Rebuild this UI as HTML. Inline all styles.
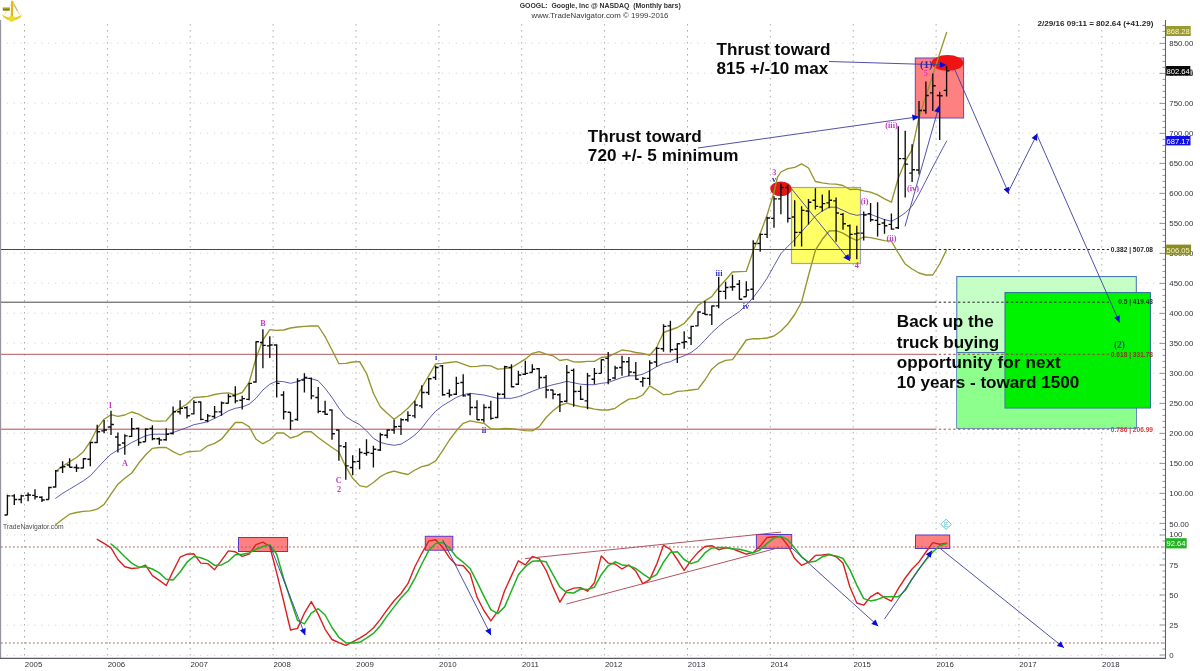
<!DOCTYPE html>
<html><head><meta charset="utf-8"><title>GOOGL Monthly</title>
<style>
html,body{margin:0;padding:0;background:#fff;}
body{width:1200px;height:671px;overflow:hidden;}
svg{display:block;}
.ax{font-family:"Liberation Sans",Arial,sans-serif;font-size:7.85px;fill:#30303a;}
.big{font-family:"Liberation Sans",Arial,sans-serif;font-weight:bold;font-size:17.1px;fill:#0a0a0a;}
.wv{font-family:"Liberation Serif","Times New Roman",serif;font-weight:bold;font-size:8.2px;text-anchor:middle;}
.fib{font-family:"Liberation Sans",Arial,sans-serif;font-weight:bold;font-size:6.6px;text-anchor:end;}
</style></head><body>
<svg width="1200" height="671" viewBox="0 0 1200 671">
<rect width="1200" height="671" fill="#fff"/>
<g id="grid">
<line x1="6.9" y1="43.2" x2="1163" y2="43.2" stroke="#cccccc" stroke-width="1" stroke-dasharray="1 5.906" stroke-dashoffset="0"/>
<line x1="6.9" y1="73.2" x2="1163" y2="73.2" stroke="#cccccc" stroke-width="1" stroke-dasharray="1 5.906" stroke-dashoffset="0"/>
<line x1="6.9" y1="103.2" x2="1163" y2="103.2" stroke="#cccccc" stroke-width="1" stroke-dasharray="1 5.906" stroke-dashoffset="0"/>
<line x1="6.9" y1="133.2" x2="1163" y2="133.2" stroke="#cccccc" stroke-width="1" stroke-dasharray="1 5.906" stroke-dashoffset="0"/>
<line x1="6.9" y1="163.2" x2="1163" y2="163.2" stroke="#cccccc" stroke-width="1" stroke-dasharray="1 5.906" stroke-dashoffset="0"/>
<line x1="6.9" y1="193.2" x2="1163" y2="193.2" stroke="#cccccc" stroke-width="1" stroke-dasharray="1 5.906" stroke-dashoffset="0"/>
<line x1="6.9" y1="223.2" x2="1163" y2="223.2" stroke="#cccccc" stroke-width="1" stroke-dasharray="1 5.906" stroke-dashoffset="0"/>
<line x1="6.9" y1="253.2" x2="1163" y2="253.2" stroke="#cccccc" stroke-width="1" stroke-dasharray="1 5.906" stroke-dashoffset="0"/>
<line x1="6.9" y1="283.2" x2="1163" y2="283.2" stroke="#cccccc" stroke-width="1" stroke-dasharray="1 5.906" stroke-dashoffset="0"/>
<line x1="6.9" y1="313.2" x2="1163" y2="313.2" stroke="#cccccc" stroke-width="1" stroke-dasharray="1 5.906" stroke-dashoffset="0"/>
<line x1="6.9" y1="343.2" x2="1163" y2="343.2" stroke="#cccccc" stroke-width="1" stroke-dasharray="1 5.906" stroke-dashoffset="0"/>
<line x1="6.9" y1="373.2" x2="1163" y2="373.2" stroke="#cccccc" stroke-width="1" stroke-dasharray="1 5.906" stroke-dashoffset="0"/>
<line x1="6.9" y1="403.2" x2="1163" y2="403.2" stroke="#cccccc" stroke-width="1" stroke-dasharray="1 5.906" stroke-dashoffset="0"/>
<line x1="6.9" y1="433.2" x2="1163" y2="433.2" stroke="#cccccc" stroke-width="1" stroke-dasharray="1 5.906" stroke-dashoffset="0"/>
<line x1="6.9" y1="463.2" x2="1163" y2="463.2" stroke="#cccccc" stroke-width="1" stroke-dasharray="1 5.906" stroke-dashoffset="0"/>
<line x1="6.9" y1="493.2" x2="1163" y2="493.2" stroke="#cccccc" stroke-width="1" stroke-dasharray="1 5.906" stroke-dashoffset="0"/>
<line x1="6.9" y1="523.2" x2="1163" y2="523.2" stroke="#cccccc" stroke-width="1" stroke-dasharray="1 5.906" stroke-dashoffset="0"/>
<line x1="6.9" y1="534.9" x2="1163" y2="534.9" stroke="#cccccc" stroke-width="1" stroke-dasharray="1 5.906" stroke-dashoffset="0"/>
<line x1="6.9" y1="565.1" x2="1163" y2="565.1" stroke="#cccccc" stroke-width="1" stroke-dasharray="1 5.906" stroke-dashoffset="0"/>
<line x1="6.9" y1="595.2" x2="1163" y2="595.2" stroke="#cccccc" stroke-width="1" stroke-dasharray="1 5.906" stroke-dashoffset="0"/>
<line x1="6.9" y1="625.2" x2="1163" y2="625.2" stroke="#cccccc" stroke-width="1" stroke-dasharray="1 5.906" stroke-dashoffset="0"/>
<line x1="6.9" y1="655.4" x2="1163" y2="655.4" stroke="#cccccc" stroke-width="1" stroke-dasharray="1 5.906" stroke-dashoffset="0"/>
<line x1="24.5" y1="24.35" x2="24.5" y2="657" stroke="#808080" stroke-width="1" stroke-dasharray="1 5"/>
<line x1="107.4" y1="24.35" x2="107.4" y2="657" stroke="#808080" stroke-width="1" stroke-dasharray="1 5"/>
<line x1="190.2" y1="24.35" x2="190.2" y2="657" stroke="#808080" stroke-width="1" stroke-dasharray="1 5"/>
<line x1="273.1" y1="24.35" x2="273.1" y2="657" stroke="#808080" stroke-width="1" stroke-dasharray="1 5"/>
<line x1="356" y1="24.35" x2="356" y2="657" stroke="#808080" stroke-width="1" stroke-dasharray="1 5"/>
<line x1="438.9" y1="24.35" x2="438.9" y2="657" stroke="#808080" stroke-width="1" stroke-dasharray="1 5"/>
<line x1="521.7" y1="24.35" x2="521.7" y2="657" stroke="#808080" stroke-width="1" stroke-dasharray="1 5"/>
<line x1="604.6" y1="24.35" x2="604.6" y2="657" stroke="#808080" stroke-width="1" stroke-dasharray="1 5"/>
<line x1="687.5" y1="24.35" x2="687.5" y2="657" stroke="#808080" stroke-width="1" stroke-dasharray="1 5"/>
<line x1="770.3" y1="24.35" x2="770.3" y2="657" stroke="#808080" stroke-width="1" stroke-dasharray="1 5"/>
<line x1="853.2" y1="24.35" x2="853.2" y2="657" stroke="#808080" stroke-width="1" stroke-dasharray="1 5"/>
<line x1="936.1" y1="24.35" x2="936.1" y2="657" stroke="#808080" stroke-width="1" stroke-dasharray="1 5"/>
<line x1="1018.9" y1="24.35" x2="1018.9" y2="657" stroke="#808080" stroke-width="1" stroke-dasharray="1 5"/>
<line x1="1101.8" y1="24.35" x2="1101.8" y2="657" stroke="#808080" stroke-width="1" stroke-dasharray="1 5"/>
</g>
<g id="boxes">
<rect x="791.5" y="187.5" width="69" height="76" fill="#ffff66" stroke="#a3a3b8" stroke-width="1.2"/>
<rect x="915.3" y="58" width="48.3" height="60" fill="#ff8080" stroke="#5a4ac0" stroke-width="1"/>
<rect x="956.8" y="276.6" width="179.5" height="151.6" fill="#c6ffc6" stroke="#3d6fb0" stroke-width="1"/>
<rect x="957.3" y="352.5" width="178.5" height="75.2" fill="#8dff8d"/>
<line x1="957" y1="352.5" x2="1005" y2="352.5" stroke="#4a78a8" stroke-width="1"/>
<rect x="1005" y="292.6" width="145.4" height="115.4" fill="#00f400" stroke="#2a6a9a" stroke-width="1"/>
<rect x="1005.5" y="352.5" width="144.4" height="55" fill="#00ee00"/>
<rect x="238.5" y="537.5" width="49.1" height="14" fill="#ff8080" stroke="#5a3ac8" stroke-width="1"/>
<rect x="425.3" y="536.3" width="27.5" height="13.9" fill="#ff8080" stroke="#5a3ac8" stroke-width="1"/>
<rect x="756.4" y="534.5" width="35.3" height="13.9" fill="#ff8080" stroke="#5a3ac8" stroke-width="1"/>
<rect x="915.5" y="535" width="34.2" height="13.5" fill="#ff8080" stroke="#5a3ac8" stroke-width="1"/>
<ellipse cx="780.9" cy="188.8" rx="10.7" ry="7.4" fill="#e01818"/>
<ellipse cx="947.5" cy="62.9" rx="16" ry="7.8" fill="#ee1414"/>
</g>
<g id="fibs">
<line x1="1" y1="249.5" x2="934" y2="249.5" stroke="#484848" stroke-width="1"/>
<line x1="934" y1="249.5" x2="1109" y2="249.5" stroke="#222" stroke-width="1" stroke-dasharray="2.4 2.4"/>
<line x1="1" y1="302.2" x2="934" y2="302.2" stroke="#484848" stroke-width="1"/>
<line x1="934" y1="302.2" x2="1109" y2="302.2" stroke="#222" stroke-width="1" stroke-dasharray="2.4 2.4"/>
<line x1="1" y1="354.3" x2="934" y2="354.3" stroke="#b05a5a" stroke-width="1"/>
<line x1="934" y1="354.3" x2="1109" y2="354.3" stroke="#8a4a3a" stroke-width="1" stroke-dasharray="2.4 2.4"/>
<line x1="1" y1="429.2" x2="934" y2="429.2" stroke="#c04848" stroke-width="1"/>
<line x1="934" y1="429.2" x2="1109" y2="429.2" stroke="#c04040" stroke-width="1" stroke-dasharray="2.4 2.4"/>
<line x1="1" y1="547" x2="1165" y2="547" stroke="#b85454" stroke-width="1.05" stroke-dasharray="1.7 2.3"/>
<line x1="1" y1="643" x2="1165" y2="643" stroke="#b85454" stroke-width="1.05" stroke-dasharray="1.7 2.3"/>
</g>
<g id="bands" fill="none" stroke-linejoin="round" stroke-linecap="round">
<path d="M55.7 471.3 L62.6 466.3 L69.6 461.7 L76.5 457.5 L83.4 451.7 L90.3 441.7 L97.2 428.3 L104.1 419.2 L111 414.7 L117.9 416.3 L124.8 415 L131.7 412 L138.6 414.2 L145.5 418 L152.4 420.8 L159.3 421.2 L166.2 420.8 L173.1 412.5 L180.1 408.3 L187 404 L193.9 397.5 L200.8 397 L207.7 396.3 L214.6 394.5 L221.5 393.3 L228.4 392.8 L235.3 395 L242.2 392.5 L249.1 382.5 L256 358.3 L262.9 340 L269.8 329.7 L276.7 330.3 L283.6 330 L290.5 328 L297.5 327 L304.4 326.3 L311.3 326 L318.2 326 L325.1 336.7 L332 350 L338.9 363.7 L345.8 363.3 L352.7 362 L359.6 361.7 L366.5 373.3 L373.4 393.3 L380.3 406.7 L387.2 413.3 L394.1 419.2 L401 414.2 L407.9 408.3 L414.9 400.8 L421.8 387.5 L428.7 375.8 L435.6 363.8 L442.5 363.3 L449.4 362.5 L456.3 361.7 L463.2 364.2 L470.1 366.7 L477 366.3 L483.9 365.3 L490.8 365.8 L497.7 369.2 L504.6 368.7 L511.5 367.5 L518.4 363.3 L525.3 359.2 L532.3 353.3 L539.2 351.7 L546.1 354.2 L553 355.8 L559.9 360.5 L566.8 359.4 L573.7 361.8 L580.6 362 L587.5 361.3 L594.4 361.3 L601.3 357.5 L608.2 356.7 L615.1 353.3 L622 350 L628.9 350.8 L635.8 352.5 L642.8 353.3 L649.7 355.3 L656.6 347.5 L663.5 332.5 L670.4 330 L677.3 327.5 L684.2 323.3 L691.1 315.5 L698 305.4 L704.9 300.8 L711.8 296.7 L718.7 287.5 L725.6 280 L732.5 272 L739.4 271.7 L746.3 271.3 L753.2 251 L760.2 233.5 L767.1 215 L774 192.2 L777.4 177.4 L780.9 172 L787.8 168.7 L794.7 167.4 L801.6 163.8 L808.5 168 L815.4 181.5 L822.3 182.8 L829.2 183.9 L836.1 184.1 L843 185.5 L849.9 189.5 L856.8 189.2 L863.7 190.8 L870.6 192.2 L877.6 194.9 L884.5 198.9 L891.4 202.2 L898.3 178 L905.2 161.7 L912.1 149.6 L919 117.4 L925.9 96 L932.8 75 L939.7 53.5 L946.6 32.4" stroke="#95952c" stroke-width="1.35"/>
<path d="M55.7 524.7 L62.6 519.2 L69.6 514.2 L76.5 512.5 L83.4 511.3 L90.3 510.8 L97.2 509.2 L104.1 504.4 L111 494.2 L117.9 484.2 L124.8 478.3 L131.7 473 L138.6 463.3 L145.5 455 L152.4 448.3 L159.3 447.5 L166.2 447.5 L173.1 451.7 L180.1 455 L187 452 L193.9 451.3 L200.8 450.8 L207.7 445.8 L214.6 443.3 L221.5 439.2 L228.4 430.8 L235.3 422.5 L242.2 422.5 L249.1 426.7 L256 439.2 L262.9 443.7 L269.8 440 L276.7 433 L283.6 433 L290.5 438 L297.5 435.8 L304.4 431.7 L311.3 431.7 L318.2 437.5 L325.1 442.5 L332 447.5 L338.9 452 L345.8 466.7 L352.7 478.3 L359.6 485.6 L366.5 487.2 L373.4 482.5 L380.3 476.7 L387.2 473 L394.1 471.2 L401 473 L407.9 474.5 L414.9 470 L421.8 466.7 L428.7 465 L435.6 460.8 L442.5 450.8 L449.4 440 L456.3 430.8 L463.2 423.3 L470.1 420.8 L477 422.2 L483.9 423.3 L490.8 428.7 L497.7 429.2 L504.6 428.3 L511.5 428.7 L518.4 429.7 L525.3 430.6 L532.3 430.8 L539.2 426.7 L546.1 417.5 L553 410.8 L559.9 405.4 L566.8 403.2 L573.7 405 L580.6 406.7 L587.5 407.5 L594.4 409.2 L601.3 410 L608.2 410 L615.1 408.3 L622 403.3 L628.9 399.2 L635.8 398.3 L642.8 395 L649.7 385.8 L656.6 390 L663.5 394.7 L670.4 394.2 L677.3 391.3 L684.2 390.8 L691.1 390 L698 389.2 L704.9 380 L711.8 369.2 L718.7 363.3 L725.6 360.3 L732.5 359.7 L739.4 350 L746.3 340 L753.2 338.7 L760.2 338.7 L767.1 338 L774 336 L780.9 331 L787.8 324 L794.7 314.5 L801.6 302 L808.5 275.5 L815.4 250.2 L822.3 239.3 L829.2 231 L836.1 230.6 L843 233.2 L849.9 237.3 L856.8 240.5 L863.7 237 L870.6 237.6 L877.6 239.1 L884.5 240.6 L891.4 241.2 L898.3 253 L905.2 264 L912.1 269 L919 273 L925.9 275 L932.8 275 L939.7 264 L946.6 249.8" stroke="#95952c" stroke-width="1.35"/>
<path d="M55.7 498.3 L62.6 493.3 L69.6 489.2 L76.5 485 L83.4 480.8 L90.3 475.8 L97.2 468.3 L104.1 460.8 L111 454.2 L117.9 450 L124.8 446.7 L131.7 442.5 L138.6 439.2 L145.5 435.8 L152.4 434.2 L159.3 434.2 L166.2 434.2 L173.1 432.5 L180.1 430 L187 427.5 L193.9 424.7 L200.8 423.3 L207.7 421.7 L214.6 418.3 L221.5 415 L228.4 410.8 L235.3 408.3 L242.2 407 L249.1 404.2 L256 398.3 L262.9 390 L269.8 384.2 L276.7 381.2 L283.6 381.7 L290.5 383.3 L297.5 381.7 L304.4 378.3 L311.3 378.7 L318.2 380.8 L325.1 388.3 L332 397.5 L338.9 408 L345.8 416.7 L352.7 421 L359.6 424.6 L366.5 430.8 L373.4 438.3 L380.3 442.4 L387.2 444.2 L394.1 445.3 L401 444.2 L407.9 440 L414.9 435 L421.8 428 L428.7 419 L435.6 411.2 L442.5 405.8 L449.4 401.6 L456.3 397.5 L463.2 394.7 L470.1 393.3 L477 394.2 L483.9 395 L490.8 396.7 L497.7 398.3 L504.6 398.3 L511.5 398.3 L518.4 396.7 L525.3 394.2 L532.3 391.3 L539.2 388.7 L546.1 386.7 L553 384.7 L559.9 383.2 L566.8 381.3 L573.7 382.8 L580.6 384.2 L587.5 384.7 L594.4 384.7 L601.3 383.3 L608.2 382.5 L615.1 380 L622 377.5 L628.9 375.8 L635.8 375.8 L642.8 374.2 L649.7 370.8 L656.6 366.7 L663.5 363.3 L670.4 361.7 L677.3 358.3 L684.2 355.8 L691.1 352.5 L698 347.3 L704.9 340.2 L711.8 332.7 L718.7 326.4 L725.6 320.7 L732.5 316.2 L739.4 311.5 L746.3 305 L753.2 297.6 L760.2 288.3 L767.1 278.2 L774 265.8 L780.9 253.6 L787.8 246.3 L794.7 239.8 L801.6 231.7 L808.5 224 L815.4 216 L822.3 211 L829.2 207.2 L836.1 207.2 L843 210.3 L849.9 213.6 L856.8 215.3 L863.7 214.3 L870.6 214.3 L877.6 217 L884.5 219.6 L891.4 221.3 L898.3 217.6 L905.2 212.9 L912.1 206.2 L919 194.1 L925.9 180.7 L932.8 167 L939.7 154 L946.6 141.1" stroke="#4a4aa8" stroke-width="0.9"/>
</g>
<path id="bars" d="M7.4 494.7V515M7.4 515h-2.9M7.4 495.8h2.9M14.3 494.2V505M14.3 495.8h-2.9M14.3 499.5h2.9M21.2 494.7V503.3M21.2 499.5h-2.9M21.2 495.8h2.9M28.1 492.5V501.2M28.1 495.3h-2.9M28.1 495h2.9M35 489.2V499.5M35 495.3h-2.9M35 496.7h2.9M41.9 496.3V502M41.9 497.2h-2.9M41.9 500h2.9M48.8 486.7V499.5M48.8 499.5h-2.9M48.8 487.5h2.9M55.7 470V487.5M55.7 487h-2.9M55.7 470.8h2.9M62.6 461.3V473M62.6 467.5h-2.9M62.6 466.7h2.9M69.6 458.3V467.5M69.6 465h-2.9M69.6 467.2h2.9M76.5 464.2V472M76.5 467.5h-2.9M76.5 468h2.9M83.4 458V468.3M83.4 468h-2.9M83.4 458.7h2.9M90.3 441.7V466.3M90.3 459.2h-2.9M90.3 442.5h2.9M97.2 424.7V443M97.2 442.5h-2.9M97.2 431.7h2.9M104.1 420V433.3M104.1 430.8h-2.9M104.1 430h2.9M111 410.8V435M111 427h-2.9M111 424.5h2.9M117.9 432.5V452.5M117.9 437h-2.9M117.9 445h2.9M124.8 434.2V454.7M124.8 443h-2.9M124.8 435.8h2.9M131.7 418V437M131.7 436.3h-2.9M131.7 428.7h2.9M138.6 427.5V445.8M138.6 428.3h-2.9M138.6 442.5h2.9M145.5 428.3V441.7M145.5 441.7h-2.9M145.5 429.2h2.9M152.4 425.3V440.3M152.4 428.3h-2.9M152.4 438.7h2.9M159.3 437.5V444.7M159.3 438.7h-2.9M159.3 440h2.9M166.2 428.3V440.8M166.2 439.7h-2.9M166.2 434.2h2.9M173.1 406.5V434.4M173.1 433.5h-2.9M173.1 411.7h2.9M180.1 400.3V414.4M180.1 411.7h-2.9M180.1 408.3h2.9M187 406.3V418.4M187 407.7h-2.9M187 415.7h2.9M193.9 400.2V414.6M193.9 413.8h-2.9M193.9 402.4h2.9M200.8 401.6V420.2M200.8 402h-2.9M200.8 419.4h2.9M207.7 414V422.2M207.7 420.6h-2.9M207.7 415.8h2.9M214.6 405.9V418.4M214.6 416.5h-2.9M214.6 411.8h2.9M221.5 401.6V415.8M221.5 411.8h-2.9M221.5 403h2.9M228.4 393.9V403.5M228.4 403.2h-2.9M228.4 396.5h2.9M235.3 386.2V403.2M235.3 395.7h-2.9M235.3 400.9h2.9M242.2 395.7V409.4M242.2 400.2h-2.9M242.2 398.6h2.9M249.1 382.7V400.2M249.1 399.4h-2.9M249.1 383.4h2.9M256 341.3V382.7M256 382h-2.9M256 341.7h2.9M262.9 329.2V368.3M262.9 342.5h-2.9M262.9 345.3h2.9M269.8 336.2V358M269.8 345.8h-2.9M269.8 345h2.9M276.7 344.2V397.5M276.7 345h-2.9M276.7 383.3h2.9M283.6 391.3V419.5M283.6 395h-2.9M283.6 411.7h2.9M290.5 412V430M290.5 412.2h-2.9M290.5 420.8h2.9M297.5 378.3V420.8M297.5 419.5h-2.9M297.5 380.8h2.9M304.4 373.3V392.5M304.4 380h-2.9M304.4 377.5h2.9M311.3 377.5V399.2M311.3 378.3h-2.9M311.3 395.8h2.9M318.2 387V413.3M318.2 397.5h-2.9M318.2 411.3h2.9M325.1 400.8V415M325.1 411.7h-2.9M325.1 414.2h2.9M332 409.2V439.7M332 410h-2.9M332 433.7h2.9M338.9 429.2V460.8M338.9 430h-2.9M338.9 445.8h2.9M345.8 442V479.7M345.8 446.7h-2.9M345.8 465.8h2.9M352.7 455.3V475.3M352.7 467.5h-2.9M352.7 461.7h2.9M359.6 448.3V469.2M359.6 461.3h-2.9M359.6 452.5h2.9M366.5 439.2V455.8M366.5 453.3h-2.9M366.5 452.5h2.9M373.4 445.8V467.5M373.4 453.3h-2.9M373.4 449.2h2.9M380.3 432.8V451M380.3 450h-2.9M380.3 434.7h2.9M387.2 429.2V438.3M387.2 435.2h-2.9M387.2 430h2.9M394.1 419.7V433.7M394.1 430h-2.9M394.1 426.7h2.9M401 418.3V435M401 426.3h-2.9M401 419.7h2.9M407.9 411.3V421.7M407.9 419.7h-2.9M407.9 415.3h2.9M414.9 400.8V418.3M414.9 415.8h-2.9M414.9 405h2.9M421.8 385.3V408.3M421.8 405.8h-2.9M421.8 392.5h2.9M428.7 378V395M428.7 392.5h-2.9M428.7 378.7h2.9M435.6 365.8V380M435.6 377.5h-2.9M435.6 367.5h2.9M442.5 365V395.8M442.5 365.8h-2.9M442.5 394.7h2.9M449.4 389.2V397.5M449.4 393.3h-2.9M449.4 395h2.9M456.3 376.7V395M456.3 394.2h-2.9M456.3 383.3h2.9M463.2 374.2V396.7M463.2 382.5h-2.9M463.2 395.8h2.9M470.1 393.3V415.3M470.1 394.7h-2.9M470.1 407.5h2.9M477 400.3V420M477 407.5h-2.9M477 419.7h2.9M483.9 404.2V422.5M483.9 419.7h-2.9M483.9 407.5h2.9M490.8 400.8V419.7M490.8 407.5h-2.9M490.8 418.3h2.9M497.7 392.5V418.3M497.7 417.5h-2.9M497.7 394.2h2.9M504.6 365.8V398.3M504.6 394.2h-2.9M504.6 366.7h2.9M511.5 364.2V387.5M511.5 367.5h-2.9M511.5 386.7h2.9M518.4 370.8V385M518.4 384.2h-2.9M518.4 375h2.9M525.3 360.8V375M525.3 374.2h-2.9M525.3 373.3h2.9M532.3 364.2V372.5M532.3 372.5h-2.9M532.3 369.2h2.9M539.2 368V388.3M539.2 368.7h-2.9M539.2 377.5h2.9M546.1 375V398.3M546.1 377.5h-2.9M546.1 390h2.9M553 389.7V399.2M553 390h-2.9M553 394.2h2.9M559.9 393.3V412M559.9 394.7h-2.9M559.9 401.7h2.9M566.8 365V402.2M566.8 401.2h-2.9M566.8 372.5h2.9M573.7 368.5V406.7M573.7 370.4h-2.9M573.7 391.5h2.9M580.6 385.8V400M580.6 391.3h-2.9M580.6 399.2h2.9M587.5 373V409.2M587.5 400.8h-2.9M587.5 375.8h2.9M594.4 368V384.2M594.4 379.2h-2.9M594.4 373.3h2.9M601.3 359.2V373.3M601.3 373.3h-2.9M601.3 359.7h2.9M608.2 352V384.2M608.2 358.3h-2.9M608.2 379.7h2.9M615.1 365.8V379.2M615.1 378h-2.9M615.1 368h2.9M622 355.8V375.8M622 367.5h-2.9M622 361.7h2.9M628.9 357V376.3M628.9 361.7h-2.9M628.9 372h2.9M635.8 362V379.7M635.8 372.5h-2.9M635.8 379.2h2.9M642.8 377V386.7M642.8 381.7h-2.9M642.8 378.3h2.9M649.7 360.3V385M649.7 378.3h-2.9M649.7 363h2.9M656.6 347V366.7M656.6 362h-2.9M656.6 348.3h2.9M663.5 324.2V351.7M663.5 348.7h-2.9M663.5 326.3h2.9M670.4 320.8V352.5M670.4 325.8h-2.9M670.4 349.7h2.9M677.3 343.3V363M677.3 349.2h-2.9M677.3 343.7h2.9M684.2 331.3V348.7M684.2 342.5h-2.9M684.2 341.7h2.9M691.1 325.8V345M691.1 338h-2.9M691.1 326.3h2.9M698 311.3V326.3M698 325.8h-2.9M698 312h2.9M704.9 301V315M704.9 313.3h-2.9M704.9 314.5h2.9M711.8 305.4V325M711.8 314.8h-2.9M711.8 306h2.9M718.7 276.7V308.3M718.7 305.8h-2.9M718.7 291.3h2.9M725.6 281.7V299.2M725.6 291.3h-2.9M725.6 287.5h2.9M732.5 274.7V290.8M732.5 287h-2.9M732.5 286.7h2.9M739.4 280V299.7M739.4 284.2h-2.9M739.4 299.2h2.9M746.3 281.3V296.7M746.3 296.7h-2.9M746.3 290h2.9M753.2 240.2V300M753.2 289.2h-2.9M753.2 243.5h2.9M760.2 233.5V251.7M760.2 243.5h-2.9M760.2 234.4h2.9M767.1 216.7V238M767.1 234.4h-2.9M767.1 218h2.9M774 196.2V227.7M774 218.3h-2.9M774 198.9h2.9M780.9 183.5V214.3M780.9 198.9h-2.9M780.9 187.5h2.9M787.8 184.8V222.4M787.8 187.5h-2.9M787.8 218.3h2.9M794.7 200.2V246.5M794.7 217h-2.9M794.7 232.4h2.9M801.6 206.3V246.5M801.6 232.4h-2.9M801.6 210.3h2.9M808.5 198.9V224.4M808.5 211h-2.9M808.5 202.2h2.9M815.4 188.2V209.6M815.4 200.2h-2.9M815.4 206.3h2.9M822.3 194.6V211.6M822.3 207h-2.9M822.3 203.6h2.9M829.2 190.2V208.3M829.2 202.9h-2.9M829.2 200.2h2.9M836.1 197.6V241.8M836.1 200.9h-2.9M836.1 213h2.9M843 213V229.7M843 214.3h-2.9M843 223.7h2.9M849.9 224.4V259.2M849.9 225.7h-2.9M849.9 234.4h2.9M856.8 225.7V259.2M856.8 233.8h-2.9M856.8 233.1h2.9M863.7 211.6V240.5M863.7 233.1h-2.9M863.7 215h2.9M870.6 202.9V221.7M870.6 213.6h-2.9M870.6 219.7h2.9M877.6 202.2V236.4M877.6 220.4h-2.9M877.6 224.4h2.9M884.5 219V233.8M884.5 223h-2.9M884.5 225.7h2.9M891.4 213.6V229.7M891.4 224.4h-2.9M891.4 229.1h2.9M898.3 126.2V229M898.3 227.7h-2.9M898.3 158.6h2.9M905.2 130.8V197.5M905.2 158.6h-2.9M905.2 164.1h2.9M912.1 144.3V182M912.1 173.1h-2.9M912.1 169.7h2.9M919 101.1V174.4M919 170h-2.9M919 110.5h2.9M925.9 81.6V113.8M925.9 110.5h-2.9M925.9 95.5h2.9M932.8 73.6V111.1M932.8 92.8h-2.9M932.8 85.7h2.9M939.7 91.7V140M939.7 95.5h-2.9M939.7 95.7h2.9M946.6 66.2V96.4M946.6 90.4h-2.9M946.6 70.9h2.9" stroke="#0c0c0c" stroke-width="1.35" fill="none"/>
<g id="osc" fill="none" stroke-linejoin="round" stroke-linecap="round">
<path d="M97.2 539.3 L104.1 543.4 L111 547.9 L117.9 559.5 L124.8 566.7 L131.7 568.5 L138.6 567.9 L145.5 565.2 L152.4 575.6 L159.3 580.4 L166.2 585.5 L173.1 571.1 L180.1 557.2 L187 554.2 L193.9 553.8 L200.8 563.1 L207.7 563.6 L214.6 569.7 L221.5 560.4 L228.4 550.9 L235.3 551.8 L242.2 556.3 L249.1 554.2 L256 544.7 L262.9 542.2 L269.8 546.5 L276.7 572.9 L283.6 601 L290.5 630 L297.5 628.4 L304.4 613.2 L311.3 601.6 L318.2 614.1 L325.1 629.3 L332 639.5 L338.9 642.7 L345.8 645.4 L352.7 641.8 L359.6 638.2 L366.5 633.8 L373.4 628 L380.3 619.4 L387.2 609.6 L394.1 600.7 L401 593.5 L407.9 583.7 L414.9 566.7 L421.8 553.3 L428.7 541.1 L435.6 539.8 L442.5 547 L449.4 557.7 L456.3 564.9 L463.2 565.8 L470.1 573.8 L477 597.1 L483.9 610.5 L490.8 620.9 L497.7 611.4 L504.6 590.8 L511.5 575.6 L518.4 560.8 L525.3 564.9 L532.3 556.5 L539.2 558.6 L546.1 570.3 L553 586.9 L559.9 602.1 L566.8 590.8 L573.7 588.1 L580.6 587.6 L587.5 591.2 L594.4 582.8 L601.3 555.9 L608.2 563.1 L615.1 564 L622 569 L628.9 564.9 L635.8 571.1 L642.8 583.7 L649.7 579.6 L656.6 564.4 L663.5 545.2 L670.4 549.3 L677.3 559.5 L684.2 570.3 L691.1 560.4 L698 552.4 L704.9 546.5 L711.8 545.7 L718.7 549.7 L725.6 547.9 L732.5 548.8 L739.4 551.5 L746.3 554.2 L753.2 552.4 L760.2 546.1 L767.1 537.5 L774 536.8 L780.9 536.8 L787.8 545.2 L794.7 558.6 L801.6 565.4 L808.5 562.2 L815.4 555.4 L822.3 555 L829.2 554.2 L836.1 556.8 L843 563 L849.9 587 L856.8 603 L863.7 605.2 L870.6 596.8 L877.6 592.6 L884.5 597.7 L891.4 601.2 L898.3 588.7 L905.2 578 L912.1 569 L919 561.9 L925.9 552 L932.8 542.6 L939.7 544.3 L946.6 543.1" stroke="#d82222" stroke-width="1.4"/>
<path d="M111 544 L117.9 549.7 L124.8 556.8 L131.7 563.1 L138.6 567.2 L145.5 566.7 L152.4 569 L159.3 572.9 L166.2 579.2 L173.1 580.1 L180.1 572 L187 562.2 L193.9 556.5 L200.8 557.7 L207.7 560.4 L214.6 565.4 L221.5 564.9 L228.4 561.3 L235.3 554.7 L242.2 554.2 L249.1 552.9 L256 549.3 L262.9 546.5 L269.8 544.7 L276.7 554.2 L283.6 578.3 L290.5 599.4 L297.5 620.3 L304.4 623.9 L311.3 613.2 L318.2 608.7 L325.1 615 L332 627.5 L338.9 637.3 L345.8 642.7 L352.7 643.1 L359.6 642.3 L366.5 638.2 L373.4 633.4 L380.3 625.7 L387.2 615.9 L394.1 606.9 L401 598 L407.9 590.8 L414.9 578.3 L421.8 564 L428.7 550.6 L435.6 543.4 L442.5 542.5 L449.4 547.9 L456.3 556.8 L463.2 562.2 L470.1 568.5 L477 581.9 L483.9 596.2 L490.8 609.6 L497.7 613.7 L504.6 606.9 L511.5 590.8 L518.4 574.7 L525.3 566.7 L532.3 561.3 L539.2 560.8 L546.1 561.8 L553 574.7 L559.9 587.2 L566.8 592.6 L573.7 593 L580.6 589 L587.5 589.4 L594.4 587.2 L601.3 574.7 L608.2 565.8 L615.1 561.8 L622 564.9 L628.9 565.8 L635.8 568.5 L642.8 573.8 L649.7 578.3 L656.6 574.7 L663.5 562.2 L670.4 552.4 L677.3 551.8 L684.2 559.5 L691.1 563.6 L698 561.3 L704.9 552.9 L711.8 547.9 L718.7 547.4 L725.6 547.5 L732.5 548.8 L739.4 549.3 L746.3 551.1 L753.2 552.9 L760.2 549.7 L767.1 543.4 L774 538.1 L780.9 536.3 L787.8 539.8 L794.7 547.9 L801.6 556.8 L808.5 562.2 L815.4 561.3 L822.3 556.8 L829.2 554.7 L836.1 555.9 L843 558.5 L849.9 569.6 L856.8 585.1 L863.7 598.6 L870.6 600.9 L877.6 599.4 L884.5 596.8 L891.4 596.8 L898.3 596.8 L905.2 590.5 L912.1 578.9 L919 569 L925.9 560.1 L932.8 552 L939.7 545.8 L946.6 543.6" stroke="#20b020" stroke-width="1.5"/>
<line x1="525.3" y1="558.6" x2="780.6" y2="532.1" stroke="#a8424e" stroke-width="0.9"/>
<line x1="566.8" y1="603.9" x2="778" y2="547.9" stroke="#a8424e" stroke-width="0.9"/>
</g>
<g id="arrows">
<line x1="829" y1="61.5" x2="946.5" y2="65" stroke="#3c3ca0" stroke-width="0.9"/>
<polygon points="946.5,65 939.8,67.9 940,61.7" fill="#0a0ad8"/>
<line x1="698" y1="148" x2="919" y2="116.7" stroke="#3c3ca0" stroke-width="0.9"/>
<polygon points="919,116.7 912.9,120.7 912,114.6" fill="#0a0ad8"/>
<line x1="791.6" y1="188.8" x2="850" y2="261" stroke="#3c3ca0" stroke-width="0.9"/>
<polygon points="850,261 843.4,257.8 848.3,253.9" fill="#0a0ad8"/>
<line x1="905" y1="226.3" x2="939.1" y2="105.8" stroke="#3c3ca0" stroke-width="0.9"/>
<polygon points="939.1,105.8 940.3,113 934.3,111.3" fill="#0a0ad8"/>
<line x1="954.5" y1="68.9" x2="1009" y2="194" stroke="#3c3ca0" stroke-width="0.9"/>
<polygon points="1009,194 1003.5,189.2 1009.2,186.7" fill="#0a0ad8"/>
<line x1="1008" y1="192.5" x2="1037.3" y2="133.6" stroke="#3c3ca0" stroke-width="0.9"/>
<polygon points="1037.3,133.6 1037.1,140.9 1031.6,138.1" fill="#0a0ad8"/>
<line x1="1036.8" y1="134.5" x2="1119.6" y2="322.6" stroke="#3c3ca0" stroke-width="0.9"/>
<polygon points="1119.6,322.6 1114.1,317.8 1119.8,315.3" fill="#0a0ad8"/>
<line x1="270" y1="545.2" x2="305.2" y2="635.2" stroke="#3c3ca0" stroke-width="0.9"/>
<polygon points="305.2,635.2 299.9,630.2 305.7,627.9" fill="#0a0ad8"/>
<line x1="442.6" y1="539.8" x2="491" y2="635.2" stroke="#3c3ca0" stroke-width="0.9"/>
<polygon points="491,635.2 485.2,630.7 490.8,627.9" fill="#0a0ad8"/>
<line x1="791.7" y1="547.9" x2="878.3" y2="626.2" stroke="#3c3ca0" stroke-width="0.9"/>
<polygon points="878.3,626.2 871.3,624.1 875.5,619.5" fill="#0a0ad8"/>
<line x1="884.4" y1="619.1" x2="932" y2="550.5" stroke="#3c3ca0" stroke-width="0.9"/>
<polygon points="932,550.5 930.8,557.7 925.7,554.2" fill="#0a0ad8"/>
<line x1="940.2" y1="548.5" x2="1064" y2="647.8" stroke="#3c3ca0" stroke-width="0.9"/>
<polygon points="1064,647.8 1056.9,646.1 1060.8,641.3" fill="#0a0ad8"/>
</g>
<g id="axes">
<rect x="0" y="20" width="1.15" height="639" fill="#9696a2"/>
<line x1="0" y1="658.4" x2="1166" y2="658.4" stroke="#5a5a62" stroke-width="1.3"/>
<line x1="1165.5" y1="20" x2="1165.5" y2="659" stroke="#60606a" stroke-width="1.05"/>
<path d="M1162.5 25.4h2.5M1162.5 31.4h2.5M1162.5 37.4h2.5M1159.5 43.4h5.5M1162.5 49.4h2.5M1162.5 55.4h2.5M1162.5 61.4h2.5M1162.5 67.4h2.5M1159.5 73.4h5.5M1162.5 79.4h2.5M1162.5 85.4h2.5M1162.5 91.4h2.5M1162.5 97.4h2.5M1159.5 103.4h5.5M1162.5 109.4h2.5M1162.5 115.4h2.5M1162.5 121.4h2.5M1162.5 127.4h2.5M1159.5 133.4h5.5M1162.5 139.4h2.5M1162.5 145.4h2.5M1162.5 151.4h2.5M1162.5 157.4h2.5M1159.5 163.4h5.5M1162.5 169.4h2.5M1162.5 175.4h2.5M1162.5 181.4h2.5M1162.5 187.4h2.5M1159.5 193.4h5.5M1162.5 199.4h2.5M1162.5 205.4h2.5M1162.5 211.4h2.5M1162.5 217.4h2.5M1159.5 223.4h5.5M1162.5 229.4h2.5M1162.5 235.4h2.5M1162.5 241.4h2.5M1162.5 247.4h2.5M1159.5 253.4h5.5M1162.5 259.4h2.5M1162.5 265.4h2.5M1162.5 271.4h2.5M1162.5 277.4h2.5M1159.5 283.4h5.5M1162.5 289.4h2.5M1162.5 295.4h2.5M1162.5 301.4h2.5M1162.5 307.4h2.5M1159.5 313.4h5.5M1162.5 319.4h2.5M1162.5 325.4h2.5M1162.5 331.4h2.5M1162.5 337.4h2.5M1159.5 343.4h5.5M1162.5 349.4h2.5M1162.5 355.4h2.5M1162.5 361.4h2.5M1162.5 367.4h2.5M1159.5 373.4h5.5M1162.5 379.4h2.5M1162.5 385.4h2.5M1162.5 391.4h2.5M1162.5 397.4h2.5M1159.5 403.4h5.5M1162.5 409.4h2.5M1162.5 415.4h2.5M1162.5 421.4h2.5M1162.5 427.4h2.5M1159.5 433.4h5.5M1162.5 439.4h2.5M1162.5 445.4h2.5M1162.5 451.4h2.5M1162.5 457.4h2.5M1159.5 463.4h5.5M1162.5 469.4h2.5M1162.5 475.4h2.5M1162.5 481.4h2.5M1162.5 487.4h2.5M1159.5 493.4h5.5M1162.5 499.4h2.5M1162.5 505.4h2.5M1162.5 511.4h2.5M1162.5 517.4h2.5M1159.5 523.4h5.5M1162.5 529.4h2.5M1159.5 535h5.5M1162.5 541h2.5M1162.5 547h2.5M1162.5 553h2.5M1162.5 559h2.5M1159.5 565h5.5M1162.5 571h2.5M1162.5 577h2.5M1162.5 583h2.5M1162.5 589h2.5M1159.5 595h5.5M1162.5 601h2.5M1162.5 607h2.5M1162.5 613h2.5M1162.5 619h2.5M1159.5 625h5.5M1162.5 631h2.5M1162.5 637h2.5M1162.5 643h2.5M1162.5 649h2.5M1159.5 655h5.5" stroke="#94949e" stroke-width="1" fill="none"/>
<text class="ax" x="1169.3" y="46.4">850.00</text>
<text class="ax" x="1169.3" y="76.4">800.00</text>
<text class="ax" x="1169.3" y="106.4">750.00</text>
<text class="ax" x="1169.3" y="136.4">700.00</text>
<text class="ax" x="1169.3" y="166.4">650.00</text>
<text class="ax" x="1169.3" y="196.4">600.00</text>
<text class="ax" x="1169.3" y="226.4">550.00</text>
<text class="ax" x="1169.3" y="256.4">500.00</text>
<text class="ax" x="1169.3" y="286.4">450.00</text>
<text class="ax" x="1169.3" y="316.4">400.00</text>
<text class="ax" x="1169.3" y="346.4">350.00</text>
<text class="ax" x="1169.3" y="376.4">300.00</text>
<text class="ax" x="1169.3" y="406.4">250.00</text>
<text class="ax" x="1169.3" y="436.4">200.00</text>
<text class="ax" x="1169.3" y="466.4">150.00</text>
<text class="ax" x="1169.3" y="496.4">100.00</text>
<text class="ax" x="1169.3" y="527.1">50.00</text>
<text class="ax" x="1169.3" y="537.4">100</text>
<text class="ax" x="1169.3" y="568">75</text>
<text class="ax" x="1169.3" y="598">50</text>
<text class="ax" x="1169.3" y="628">25</text>
<text class="ax" x="1169.3" y="658">0</text>
<text class="ax" x="24.8" y="667.2">2005</text>
<text class="ax" x="107.7" y="667.2">2006</text>
<text class="ax" x="190.5" y="667.2">2007</text>
<text class="ax" x="273.4" y="667.2">2008</text>
<text class="ax" x="356.3" y="667.2">2009</text>
<text class="ax" x="439.1" y="667.2">2010</text>
<text class="ax" x="522" y="667.2">2011</text>
<text class="ax" x="604.9" y="667.2">2012</text>
<text class="ax" x="687.8" y="667.2">2013</text>
<text class="ax" x="770.6" y="667.2">2014</text>
<text class="ax" x="853.5" y="667.2">2015</text>
<text class="ax" x="936.4" y="667.2">2016</text>
<text class="ax" x="1019.2" y="667.2">2017</text>
<text class="ax" x="1102.1" y="667.2">2018</text>
<rect x="1166.1" y="26" width="24.6" height="10" fill="#9a9a30"/><text class="ax" x="1166.5" y="34" style="fill:#f4f4d8;font-size:7.6px">868.28</text>
<rect x="1166.1" y="66" width="24.2" height="9.6" fill="#080808"/><text class="ax" x="1166.5" y="73.8" style="fill:#ffffff;font-size:7.6px">802.64</text>
<rect x="1190.2" y="70" width="1.8" height="5.2" fill="#fff" stroke="#111" stroke-width="0.7"/>
<rect x="1166.1" y="136" width="24.4" height="9.4" fill="#1010e0"/><text class="ax" x="1166.5" y="143.7" style="fill:#ffffff;font-size:7.6px">687.17</text>
<rect x="1166.1" y="244.6" width="25" height="10" fill="#8c8c20"/><text class="ax" x="1166.5" y="252.6" style="fill:#f4f4d8;font-size:7.6px">506.05</text>
<rect x="1166.1" y="538.2" width="20.6" height="10.2" fill="#22b422"/><text class="ax" x="1166.5" y="546.3" style="fill:#ffffff;font-size:7.6px">92.64</text>
</g>
<g id="texts">
<text x="600.2" y="7.9" text-anchor="middle" style="font-family:'Liberation Sans',Arial,sans-serif;font-weight:bold;font-size:6.9px;fill:#303030;white-space:pre" xml:space="preserve">GOOGL:  Google, Inc @ NASDAQ  (Monthly bars)</text>
<text x="600" y="17.8" text-anchor="middle" style="font-family:'Liberation Sans',Arial,sans-serif;font-size:7.87px;fill:#363636">www.TradeNavigator.com © 1999-2016</text>
<text x="1153.5" y="26.2" text-anchor="end" style="font-family:'Liberation Sans',Arial,sans-serif;font-weight:bold;font-size:8.1px;fill:#2a2a2a">2/29/16 09:11 = 802.64 (+41.29)</text>
<text x="3" y="529.2" style="font-family:'Liberation Sans',Arial,sans-serif;font-size:6.75px;fill:#4a4a4a">TradeNavigator.com</text>
<text class="fib" x="1153" y="251.5" fill="#222">0.382 | 507.08</text>
<text class="fib" x="1153" y="304.3" fill="#1a3a1a">0.5 | 419.43</text>
<text class="fib" x="1153" y="356.7" fill="#8a3a2a">0.618 | 331.78</text>
<text class="fib" x="1153" y="431.6" fill="#d83a3a">0.786 | 206.99</text>
<text class="wv" x="110.3" y="407.8" fill="#c838c8">1</text>
<text class="wv" x="125" y="465.8" fill="#c838c8">A</text>
<text class="wv" x="263" y="326.3" fill="#c838c8">B</text>
<text class="wv" x="338.8" y="482.5" fill="#c838c8">C</text>
<text class="wv" x="339" y="491.8" fill="#c838c8">2</text>
<text class="wv" x="436.2" y="360.3" fill="#3030c4">i</text>
<text class="wv" x="484" y="432.5" fill="#3030c4">ii</text>
<text class="wv" x="719" y="276.1" fill="#3030c4">iii</text>
<text class="wv" x="746" y="309.3" fill="#3030c4">iv</text>
<text class="wv" x="774.2" y="174.8" fill="#c838c8">3</text>
<text class="wv" x="774" y="181.6" fill="#3030c4">v</text>
<text class="wv" x="856.7" y="267.9" fill="#c838c8">4</text>
<text class="wv" x="864.5" y="204.4" fill="#c838c8">(i)</text>
<text class="wv" x="891.6" y="240.6" fill="#c838c8">(ii)</text>
<text class="wv" x="891.5" y="127.6" fill="#c838c8">(iii)</text>
<text class="wv" x="913" y="191.3" fill="#c838c8">(iv)</text>
<text class="wv" x="926.3" y="67.7" fill="#3420b8" style="font-size:10.6px">(1)</text>
<text class="wv" x="926" y="76" fill="#e430b4" style="font-size:7.6px">5</text>
<text class="wv" x="1119.5" y="348.1" fill="#0a5a6a" style="font-size:9.5px">(2)</text>
<g stroke="#48c8c8" fill="none" stroke-width="0.9"><polygon points="946.1,519.2 951.4,524.3 946.1,529.4 940.8,524.3"/></g><text x="946.1" y="526.6" text-anchor="middle" style="font-family:'Liberation Sans',Arial,sans-serif;font-size:6.5px;fill:#48c0c0">E</text>
<text class="big" x="716.6" y="54.5">Thrust toward</text>
<text class="big" x="716.6" y="74.3">815 +/-10 max</text>
<text class="big" x="587.8" y="141.5">Thrust toward</text>
<text class="big" x="587.8" y="161.4" textLength="150.6">720 +/- 5 minimum</text>
<text class="big" x="896.8" y="327.3">Back up the</text>
<text class="big" x="896.8" y="347.5" textLength="102.4">truck buying</text>
<text class="big" x="896.8" y="367.6" textLength="164">opportunity for next</text>
<text class="big" x="896.8" y="387.5">10 years - toward 1500</text>
</g>
<g id="logo">
<path d="M2 14.2 A16.6 16.6 0 0 0 22 14.2 L20.6 17.6 A13.2 13.2 0 0 1 3.6 17.4 Z" fill="#e9cf22"/>
<path d="M12.2 2.4 L4.6 14.6" stroke="#ecdc78" stroke-width="1" fill="none" opacity="0.75"/>
<path d="M13 2.6 L19.4 14.4" stroke="#e6d45a" stroke-width="1.1" fill="none" opacity="0.85"/>
<path d="M12.3 2 L11.8 17" stroke="#dcba16" stroke-width="2.3" stroke-linecap="round" fill="none"/>
<path d="M13.8 4.2 L17.4 10.8" stroke="#c8b67a" stroke-width="1.2" fill="none"/>
<rect x="2.8" y="7.6" width="7" height="3.1" fill="#8c7a12"/>
<rect x="2.8" y="7.2" width="7" height="1.2" fill="#e2cc38"/>
<circle cx="11.7" cy="18.7" r="3" fill="#f0da26"/>
</g>
</svg>
</body></html>
